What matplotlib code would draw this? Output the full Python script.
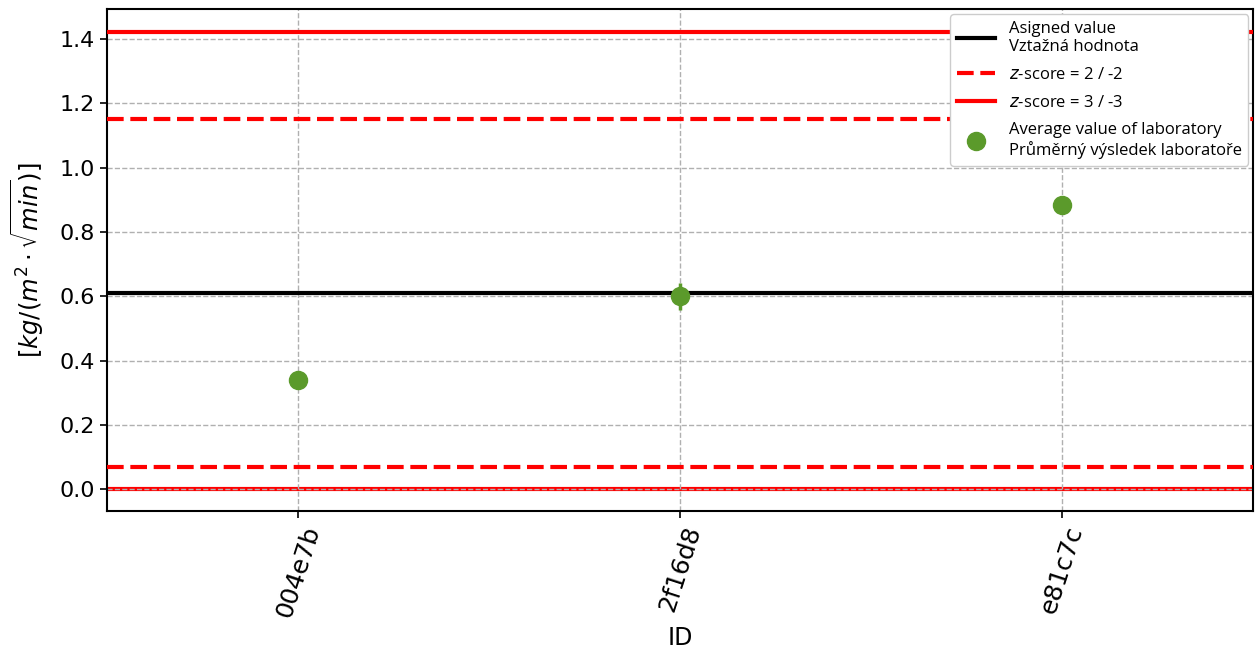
import matplotlib.pyplot as plt
import numpy as np

lab_ids = ["004e7b", "2f16d8", "e81c7c"]
lab_means = [0.339, 0.600, 0.884]
lab_err = [0.0, 0.042, 0.0]

assigned = 0.61
z2_upper, z2_lower = 1.151, 0.068
z3_upper, z3_lower = 1.422, 0.0

fig, ax = plt.subplots(figsize=(12.57, 6.57), dpi=100)

x = np.arange(len(lab_ids))

ax.axhline(assigned, color="black", lw=3, label="Asigned value\nVztažná hodnota", zorder=3)
ax.axhline(z2_upper, color="red", lw=3, ls=(0, (4, 1.6)), label="$z$-score = 2 / -2", zorder=3)
ax.axhline(z2_lower, color="red", lw=3, ls=(0, (4, 1.6)), zorder=3)
ax.axhline(z3_upper, color="red", lw=3, label="$z$-score = 3 / -3", zorder=3)
ax.axhline(z3_lower, color="red", lw=3, zorder=1)

ax.errorbar(x, lab_means, yerr=lab_err, fmt="o", color="#5b9a2b", ms=13, elinewidth=2.5,
            capsize=0, zorder=4, label="Average value of laboratory\nPrůměrný výsledek laboratoře")

ax.grid(True, ls="--", color="#b0b0b0", lw=1, zorder=2)
for gl in ax.get_xgridlines() + ax.get_ygridlines():
    gl.set_zorder(2)

ax.set_xlim(-0.5, 2.5)
ax.set_ylim(-0.068, 1.493)
ax.set_xticks(x)
ax.set_xticklabels(lab_ids, rotation=72, fontsize=18)
ax.set_yticks(np.arange(0, 1.41, 0.2))
ax.tick_params(axis="y", labelsize=16)
ax.tick_params(width=1.2, length=5)
for s in ax.spines.values():
    s.set_linewidth(1.5)

ax.set_xlabel("ID", fontsize=17)
ax.set_ylabel(r"$[kg/(m^2 \cdot \sqrt{min})]$", fontsize=17.5, labelpad=10)

leg = ax.legend(loc="upper right", prop={"family": ["Open Sans", "DejaVu Sans"], "size": 12},
                framealpha=1, borderaxespad=0.3, handlelength=2.3, labelspacing=0.7)
leg.set_zorder(10)

plt.subplots_adjust(left=0.085, right=0.997, top=0.986, bottom=0.222)
plt.savefig("out.png", dpi=100)
